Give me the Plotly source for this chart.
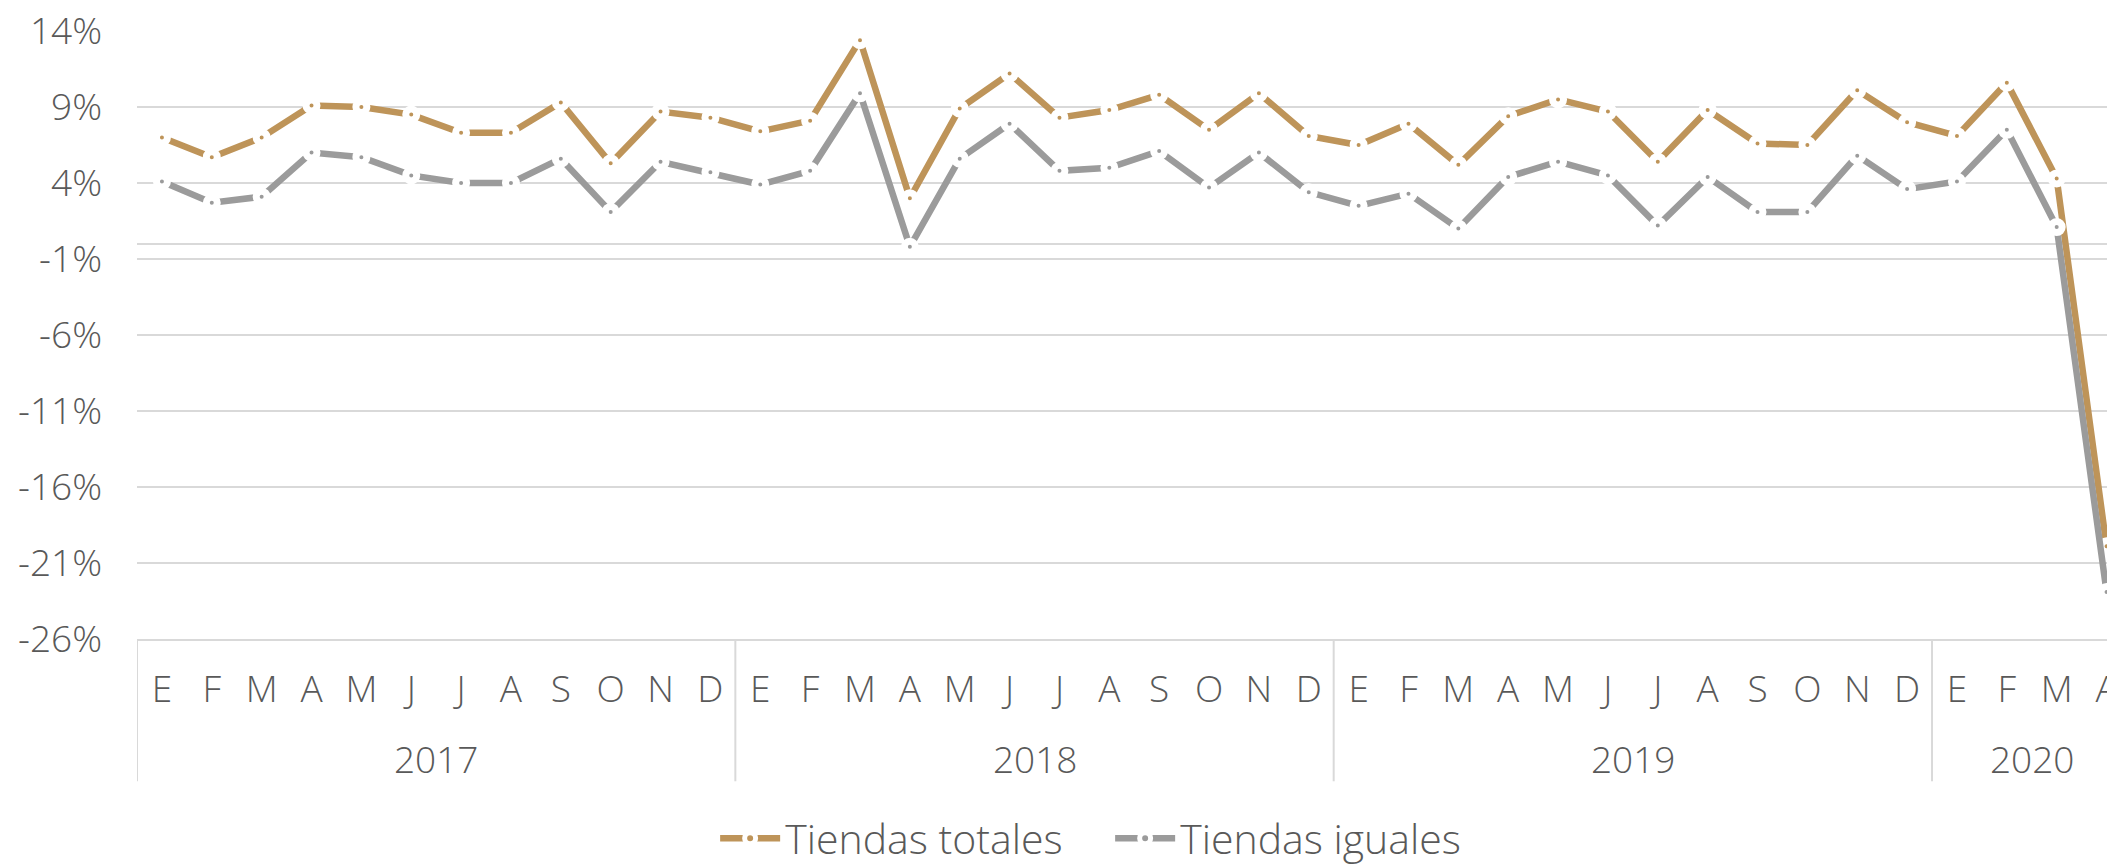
import plotly.graph_objects as go

# datos (% variación interanual)
anios = ["2017"] * 12 + ["2018"] * 12 + ["2019"] * 12 + ["2020"] * 4
meses = list("EFMAMJJASOND") * 3 + list("EFMA")

tiendas_totales = [7.0, 5.7, 7.0, 9.1, 9.0, 8.5, 7.3, 7.3, 9.3, 5.3, 8.7, 8.3,
                   7.4, 8.1, 13.4, 3.0, 8.9, 11.2, 8.3, 8.8, 9.8, 7.5, 9.9, 7.1,
                   6.5, 7.9, 5.2, 8.4, 9.5, 8.7, 5.4, 8.8, 6.6, 6.5, 10.1, 8.0,
                   7.1, 10.6, 4.3, -19.9]
tiendas_iguales = [4.1, 2.7, 3.1, 6.0, 5.7, 4.5, 4.0, 4.0, 5.6, 2.1, 5.4, 4.7,
                   3.9, 4.8, 9.9, -0.2, 5.6, 7.9, 4.8, 5.0, 6.1, 3.7, 6.0, 3.4,
                   2.5, 3.3, 1.0, 4.4, 5.4, 4.5, 1.2, 4.4, 2.1, 2.1, 5.8, 3.6,
                   4.1, 7.5, 1.1, -22.9]

y_ticks = list(range(-26, 15, 5))

texto = "#595959"
rejilla = "#d9d9d9"
fuente = dict(family="Open Sans", size=37, color=texto, weight=300)

# clave única por mes (año-mes), se etiqueta luego con la letra
claves = [f"{a}-{i}" for i, a in enumerate(anios)]

fig = go.Figure()
for nombre, valores, color in [("Tiendas totales", tiendas_totales, "#BE9459"),
                               ("Tiendas iguales", tiendas_iguales, "#9B9B9B")]:
    fig.add_trace(go.Scatter(
        x=claves, y=valores, name=nombre, mode="lines+markers",
        line=dict(color=color, width=6.5),
        marker=dict(size=11, color=color, line=dict(color="white", width=7)),
    ))

# etiquetas de año y separadores
grupos = []
for i, a in enumerate(anios):
    if not grupos or grupos[-1][0] != a:
        grupos.append([a, i, i])
    else:
        grupos[-1][2] = i

for a, ini, fin in grupos:
    fig.add_annotation(x=(ini + fin) / 2, y=-0.197, xref="x", yref="paper",
                       text=a, showarrow=False, font=fuente, yanchor="middle")
    fig.add_shape(type="line", x0=ini - 0.5, x1=ini - 0.5, y0=0, y1=-0.234,
                  xref="x", yref="paper", line=dict(color=rejilla, width=2))

fig.update_layout(
    width=2115, height=864,
    margin=dict(l=129, r=0, t=23, b=230),
    paper_bgcolor="white", plot_bgcolor="white",
    font=fuente,
    legend=dict(orientation="h", x=0.49, xanchor="center", y=-0.329, yanchor="middle",
                font=dict(fuente, size=41), itemwidth=60, entrywidth=320,
                traceorder="normal"),
)
fig.update_xaxes(
    type="category", range=[-0.5, len(claves) - 0.67], automargin=False,
    tickvals=claves, ticktext=meses,
    showgrid=False, showline=True, linecolor=rejilla, linewidth=2,
    ticks="", tickfont=fuente, ticklabelstandoff=17,
)
fig.update_yaxes(
    range=[-26, 14.001], tickvals=y_ticks, ticktext=[f"{v}%" for v in y_ticks],
    automargin=False, ticklabeloverflow="allow",
    showgrid=True, gridcolor=rejilla, gridwidth=2,
    zeroline=True, zerolinecolor=rejilla, zerolinewidth=2,
    ticks="", tickfont=fuente, ticklabelstandoff=34,
)

fig.write_html("out.html")
